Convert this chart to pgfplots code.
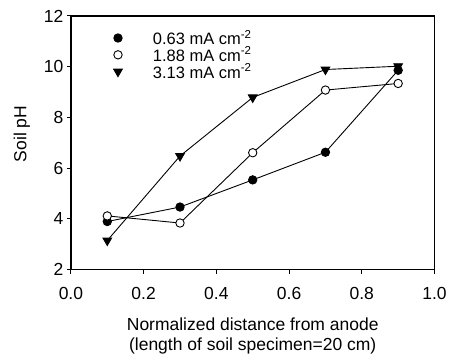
\documentclass[border=0pt]{standalone}
\usepackage{pgfplots}
\pgfplotsset{compat=1.18}
\usepackage{fontspec}
\setmainfont{Liberation Sans}
\usetikzlibrary{calc}
\begin{document}
\begin{tikzpicture}
\begin{axis}[
  scale only axis, width=364pt, height=254pt,
  xmin=0, xmax=1, ymin=2, ymax=12,
  xtick={0,0.2,0.4,0.6,0.8,1.0}, ytick={2,4,6,8,10,12},
  tick align=outside, tick pos=left, major tick length=4pt,
  axis line style={line width=1.2pt},
  every tick/.style={line width=1pt, black},
  /pgf/number format/assume math mode=true,
  xticklabel style={/pgf/number format/.cd, fixed, fixed zerofill, precision=1, /tikz/.cd, yshift=-10pt},
  ticklabel style={font=\fontsize{17.5}{20}\selectfont},
  label style={font=\fontsize{17.5}{20.5}\selectfont},
  xlabel={Normalized distance from anode\\(length of soil specimen=20 cm)},
  xlabel style={align=center, at={(axis description cs:0.5,0)}, anchor=north, yshift=-44.5pt},
  ylabel={Soil pH},
  ylabel style={yshift=7pt, xshift=9pt},
  legend style={at={(axis description cs:0.117,0.953)}, anchor=north west, draw=none, fill=none,
    inner sep=0pt, font=\fontsize{16.5}{18}\selectfont, row sep=-3pt},
  legend cell align=left,
  legend image code/.code={\draw[#1] plot[only marks] coordinates {(0pt,0pt)}; \path[draw=none] (0pt,0pt) -- (33pt,0pt);},
]
\addplot[black, line width=0.9pt, mark=*, mark size=4.2pt, mark options={fill=black}]
  coordinates {(0.1,3.90) (0.3,4.47) (0.5,5.54) (0.7,6.63) (0.9,9.86)};
\addlegendentry{0.63 mA cm\textsuperscript{-2}}
\addplot[black, line width=0.9pt, mark=*, mark size=4.2pt, mark options={fill=white, line width=0.9pt}]
  coordinates {(0.1,4.12) (0.3,3.84) (0.5,6.61) (0.7,9.08) (0.9,9.34)};
\addlegendentry{1.88 mA cm\textsuperscript{-2}}
\addplot[black, line width=0.9pt, mark=triangle*, mark size=5pt, mark options={fill=black, rotate=180}]
  coordinates {(0.1,3.15) (0.3,6.48) (0.5,8.79) (0.7,9.89) (0.9,10.02)};
\addlegendentry{3.13 mA cm\textsuperscript{-2}}
\end{axis}
\path ($(current axis.south west)+(-71pt,-86pt)$) rectangle ($(current axis.north east)+(15pt,16pt)$);
\end{tikzpicture}
\end{document}
